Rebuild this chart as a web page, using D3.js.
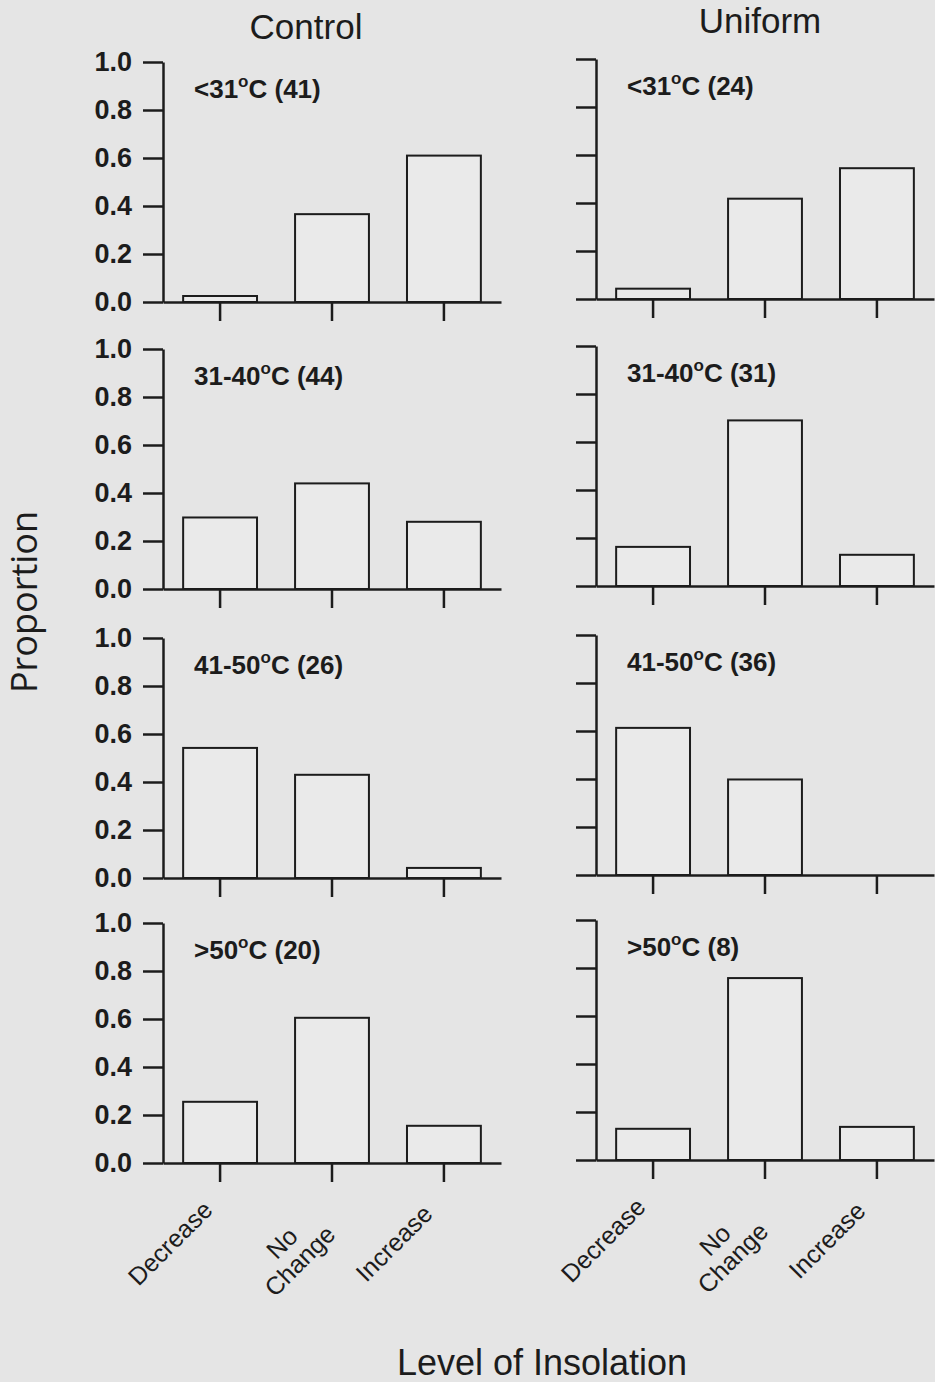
<!DOCTYPE html>
<html>
<head>
<meta charset="utf-8">
<script src="https://cdn.jsdelivr.net/npm/d3@7"></script>
<style>
  body { margin: 0; background: #e5e5e5; }
  svg { display: block; }
</style>
</head>
<body>
<div id="chart"></div>
<script>
// data
var categories = ["Decrease", "No Change", "Increase"];
var columnTitles = ["Control", "Uniform"];
var rowRanges = ["<31", "31-40", "41-50", ">50"];
var controlN = [41, 44, 26, 20];
var uniformN = [24, 31, 36, 8];
var controlValues = [
	[0.025, 0.366, 0.61],
	[0.298, 0.44, 0.28],
	[0.542, 0.43, 0.042],
	[0.255, 0.605, 0.155]
];
var uniformValues = [
	[0.043, 0.418, 0.545],
	[0.163, 0.69, 0.13],
	[0.613, 0.398, 0],
	[0.13, 0.758, 0.138]
];
var yTicks = [0, 0.2, 0.4, 0.6, 0.8, 1.0];

var W = 935, H = 1382;
var panelW = 338, panelH = 240;
var colX = [163, 596];
var colDy = [1, -2];
var rowTop = [61, 348, 637, 922];
var ink = "#1c1c1c";
var font = "'Liberation Sans', Arial, sans-serif";

var svg = d3.select("#chart").append("svg")
	.attr("width", W)
	.attr("height", H);

svg.append("rect")
	.attr("width", W)
	.attr("height", H)
	.attr("fill", "#e5e5e5");

var y = d3.scaleLinear().domain([0, 1]).range([panelH, 0]);
var x = d3.scaleBand().domain(categories).range([0, panelW])
	.paddingInner(0.34).paddingOuter(0.18);

var columns = [
	{ title: columnTitles[0], n: controlN, values: controlValues },
	{ title: columnTitles[1], n: uniformN, values: uniformValues }
];

columns.forEach(function(col, c) {
	for (var r = 0; r < rowRanges.length; r++) {
		var g = svg.append("g")
			.attr("transform", "translate(" + colX[c] + "," + (rowTop[r] + colDy[c]) + ")");

		var rows = categories.map(function(cat, i) { return { cat: cat, v: col.values[r][i] }; });

		g.selectAll("rect.bar")
			.data(rows)
			.enter()
			.append("rect")
			.attr("class", "bar")
			.attr("x", function(d) { return x(d.cat); })
			.attr("y", function(d) { return y(d.v); })
			.attr("width", x.bandwidth())
			.attr("height", function(d) { return panelH - y(d.v); })
			.attr("fill", "#eaeaea")
			.attr("stroke", ink)
			.attr("stroke-width", 2);

		// y axis
		var ya = g.append("g")
			.call(d3.axisLeft(y)
				.tickValues(yTicks)
				.tickSize(20)
				.tickSizeOuter(0)
				.tickPadding(11)
				.tickFormat(c == 0 ? d3.format(".1f") : ""));
		ya.select(".domain").attr("stroke", ink).attr("stroke-width", 2.5);
		ya.selectAll(".tick line").attr("stroke", ink).attr("stroke-width", 2.5);
		ya.selectAll(".tick text")
			.attr("fill", ink)
			.style("font-family", font)
			.style("font-size", "27px")
			.style("font-weight", "bold");

		// x axis
		var xa = g.append("g")
			.attr("transform", "translate(0," + panelH + ")")
			.call(d3.axisBottom(x).tickSize(19).tickSizeOuter(0).tickFormat(""));
		xa.select(".domain").attr("stroke", ink).attr("stroke-width", 2.5);
		xa.selectAll(".tick line").attr("stroke", ink).attr("stroke-width", 2.5);

		// panel label
		var lab = g.append("text")
			.attr("x", 31)
			.attr("y", 36)
			.attr("fill", ink)
			.style("font-family", font)
			.style("font-size", "26px")
			.style("font-weight", "bold");
		lab.append("tspan").text(rowRanges[r]);
		lab.append("tspan").attr("dy", -11).style("font-size", "17px").text("o");
		lab.append("tspan").attr("dy", 11).text("C (" + col.n[r] + ")");

		// category labels on the bottom row
		if (r == rowRanges.length - 1) {
			categories.forEach(function(cat) {
				var cg = g.append("g")
					.attr("transform", "translate(" + (x(cat) + x.bandwidth() / 2) + "," + panelH + ") rotate(-45)");
				var t = cg.append("text")
					.attr("text-anchor", "middle")
					.attr("fill", ink)
					.style("font-family", font)
					.style("font-size", "25px");
				cat.split(" ").forEach(function(w, i) {
					t.append("tspan").attr("x", -92).attr("y", 30 + i * 25).text(w);
				});
			});
		}
	}
});

// column titles
svg.append("text")
	.attr("x", 306).attr("y", 39)
	.attr("text-anchor", "middle")
	.attr("fill", ink)
	.style("font-family", font)
	.style("font-size", "35px")
	.text(columnTitles[0]);

svg.append("text")
	.attr("x", 760).attr("y", 33)
	.attr("text-anchor", "middle")
	.attr("fill", ink)
	.style("font-family", font)
	.style("font-size", "35px")
	.text(columnTitles[1]);

// axis titles
svg.append("text")
	.attr("transform", "translate(37,602) rotate(-90)")
	.attr("text-anchor", "middle")
	.attr("fill", ink)
	.style("font-family", "'Open Sans', sans-serif")
	.style("font-size", "36px")
	.text("Proportion");

svg.append("text")
	.attr("x", 542).attr("y", 1375)
	.attr("text-anchor", "middle")
	.attr("fill", ink)
	.style("font-family", font)
	.style("font-size", "36px")
	.text("Level of Insolation");
</script>
</body>
</html>
